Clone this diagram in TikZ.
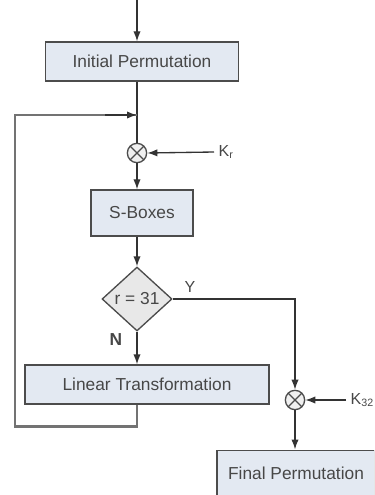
\documentclass[tikz,border=0pt]{standalone}
\usepackage{fontspec}
\setmainfont{Liberation Sans}
\usetikzlibrary{arrows.meta, shapes.geometric}

\definecolor{boxfill}{HTML}{E3E9F2}

\begin{document}
\begin{tikzpicture}[
    x=0.75pt, y=-0.75pt,
    >={Latex[length=7.5pt,width=5.5pt]}, % filled arrow tips
    lbl/.style={font=\fontsize{13}{15}\selectfont, text=black!72},
    procbox/.style={lbl, draw=black!70, fill=boxfill, line width=1pt, inner sep=0pt},
    decision/.style={lbl, diamond, aspect=1.1, draw=black!70, fill=black!9, line width=1pt,
        inner sep=0pt, minimum width=52.5pt, minimum height=48pt},
    xorop/.style={circle, draw=black!70, fill=black!6, line width=1pt, minimum size=14.5pt, inner sep=0pt,
        path picture={\draw[black!70, line width=0.9pt]
            (path picture bounding box.north west) -- (path picture bounding box.south east)
            (path picture bounding box.north east) -- (path picture bounding box.south west);}},
    flow/.style={draw=black!80, line width=1pt},
    loopback/.style={draw=black!55, line width=1.9pt}
]

    % Canvas (picture is cut at right and bottom)
    \path[use as bounding box] (0,0) rectangle (374,495);
    \clip (0,0) rectangle (374,495);

    % Blocks
    \node[procbox, minimum width=144.75pt, minimum height=29.25pt] (ip) at (142,61.5) {Initial Permutation};
    \node[xorop] (xr) at (137,153) {};
    \node[procbox, minimum width=76.5pt, minimum height=34.5pt] (sb) at (142,213) {S-Boxes};
    \node[decision] (test) at (137,299) {r = 31};
    \node[procbox, minimum width=183pt, minimum height=29.25pt] (lt) at (147,384.5) {Linear Transformation};
    \node[xorop] (xk) at (295,400) {};
    \node[procbox, minimum width=118.5pt, minimum height=35pt] (fp) at (296,473.5) {Final Permutation};

    % Inputs and labels
    \coordinate (in) at (137,0);
    \coordinate (fb) at (137,115);
    \coordinate (fbtail) at (105,115);
    \node[lbl, font=\fontsize{12}{14}\selectfont, anchor=west] (krlbl) at (214,152) {K\textsubscript{r}};
    \node[lbl, font=\fontsize{12}{14}\selectfont, anchor=west] (kklbl) at (346,400) {K\textsubscript{32}};
    \node[lbl, font=\fontsize{12}{14}\selectfont] (ylbl) at (190,287) {Y};
    \node[lbl, font=\bfseries\fontsize{13}{15}\selectfont] (nlbl) at (116,340) {N};

    % Main flow
    \draw[flow, ->] (in) -- (in |- ip.north);
    \draw[flow] (ip.south -| xr) -- (xr.north);
    \draw[flow, ->] (krlbl.west) -- (xr.east);
    \draw[flow, ->] (xr.south) -- (xr |- sb.north);
    \draw[flow, ->] (sb.south -| test) -- (test.north);
    \draw[flow, ->] (test.south) -- (test.south |- lt.north);
    \draw[flow, ->] (test.east) -| (xk.north);
    \draw[flow, ->] (kklbl.west) -- (xk.east);
    \draw[flow, ->] (xk.south) -- (xk |- fp.north);

    % Round feedback
    \draw[loopback] (lt.south -| fb) -- ++(0,22) -| (15,115) -- (fb);
    \draw[flow, ->] (fbtail) -- (fb);

\end{tikzpicture}
\end{document}
